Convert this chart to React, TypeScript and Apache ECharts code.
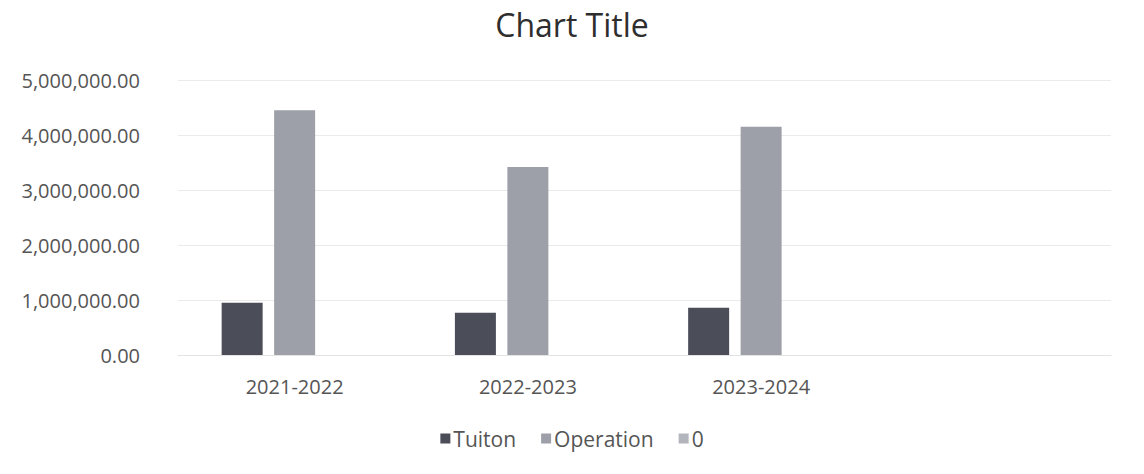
import React, { useEffect, useRef } from "react";
import * as echarts from "echarts";

const categories = ["2021-2022", "2022-2023", "2023-2024", ""];
const tuiton = [950000, 770000, 860000, null];
const operation = [4450000, 3420000, 4150000, null];
const zeroSeries = [0, 0, 0, null];
const seriesNames = ["Tuiton", "Operation", "0"];
const colors = ["#4b4d58", "#9d9fa9", "#b3b5bd"];

function fmt(v: number): string {
  const s = Math.round(v).toString().replace(/\B(?=(\d{3})+(?!\d))/g, ",");
  return s + ".00";
}

export default function App() {
  const ref = useRef<HTMLDivElement>(null);
  useEffect(() => {
    if (!ref.current) return;
    const chart = echarts.init(ref.current, undefined, { renderer: "svg" });
    const font = "Open Sans";
    chart.setOption({
      animation: false,
      backgroundColor: "#ffffff",
      title: {
        text: "Chart Title",
        left: "center",
        top: 3,
        textStyle: { fontFamily: font, fontSize: 32, fontWeight: "normal", color: "#2e2e2e" },
      },
      legend: {
        top: 423,
        left: "center",
        itemWidth: 10,
        itemHeight: 10,
        itemGap: 25,
        icon: "rect",
        textStyle: { fontFamily: font, fontSize: 21, color: "#555555", padding: [0, 0, 0, -2] },
        data: seriesNames,
      },
      grid: { left: 178, right: 33, top: 80, bottom: 119 },
      xAxis: {
        type: "category",
        data: categories,
        axisLine: { show: true, lineStyle: { color: "#e3e3e3" } },
        axisTick: { show: false },
        axisLabel: { fontFamily: font, fontSize: 20, color: "#555555", margin: 21 },
      },
      yAxis: {
        type: "value",
        min: 0,
        max: 5000000,
        interval: 1000000,
        axisLine: { show: false },
        axisTick: { show: false },
        splitLine: { lineStyle: { color: "#eaeaea" } },
        axisLabel: { fontFamily: font, fontSize: 20, color: "#555555", margin: 38, formatter: (v: number) => fmt(v) },
      },
      series: [
        { name: seriesNames[0], type: "bar", data: tuiton, barWidth: 41, barGap: "28%", itemStyle: { color: colors[0] } },
        { name: seriesNames[1], type: "bar", data: operation, barWidth: 41, barGap: "28%", itemStyle: { color: colors[1] } },
        { name: seriesNames[2], type: "bar", data: zeroSeries, barWidth: 41, barGap: "28%", itemStyle: { color: colors[2] } },
      ],
    });
    return () => chart.dispose();
  }, []);
  return <div ref={ref} style={{ position: "fixed", left: 0, top: 0, width: 1144, height: 474 }} />;
}
